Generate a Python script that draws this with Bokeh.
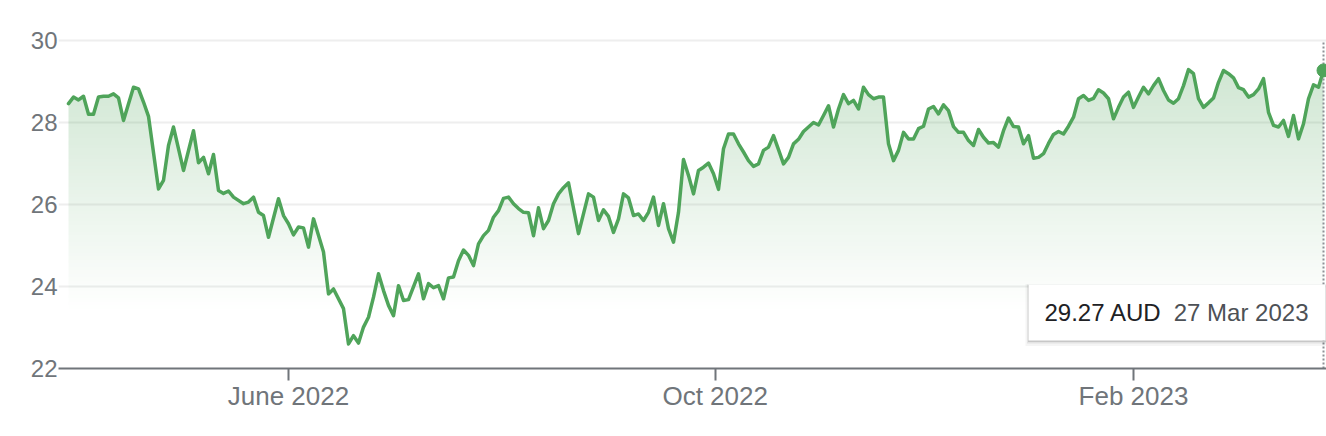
import numpy as np
import pandas as pd
from bokeh.plotting import figure
from bokeh.models import Range1d, FixedTicker
from bokeh.embed import file_html
from bokeh.resources import INLINE
from bokeh.core.properties import value

# ---------------- data ----------------
START = "2022-03-28"
END = "2023-03-27"
HOLIDAYS = ["2022-04-15", "2022-04-18", "2022-04-25", "2022-06-13", "2022-09-22",
            "2022-12-26", "2022-12-27", "2023-01-02", "2023-01-26"]
TICK_DATES = ["2022-06-01", "2022-10-01", "2023-02-01"]
TICK_LABELS = ["June 2022", "Oct 2022", "Feb 2023"]
Y_TICKS = [22, 24, 26, 28, 30]
CURRENCY = "AUD"
LAST_DATE_LABEL = "27 Mar 2023"

# trading-day number of each vertex
day = [0, 1, 2, 3, 4, 5, 6, 7, 8, 9, 10, 11, 13, 14, 15, 16, 18, 19, 20, 21,
       23, 25, 26, 27, 28, 29, 30, 31, 32, 33, 35, 36, 37, 38, 39, 40, 42, 43, 44, 45,
       46, 47, 48, 49, 51, 52, 53, 55, 56, 57, 58, 59, 60, 61, 62, 63, 64, 65, 66, 67,
       68, 70, 71, 72, 73, 74, 75, 76, 77, 78, 79, 80, 81, 82, 83, 84, 85, 86, 87, 88,
       89, 90, 91, 92, 93, 94, 95, 96, 97, 98, 99, 100, 102, 104, 105, 106, 107, 108, 109, 110,
       111, 112, 113, 114, 115, 116, 117, 118, 119, 120, 121, 122, 123, 124, 125, 126, 127, 128, 129, 130,
       131, 132, 133, 134, 135, 136, 137, 138, 139, 140, 141, 142, 143, 144, 145, 146, 147, 148, 149, 150,
       151, 152, 153, 154, 155, 156, 157, 158, 159, 160, 161, 162, 163, 164, 165, 166, 167, 168, 169, 170,
       171, 172, 173, 174, 175, 176, 177, 178, 179, 180, 181, 182, 183, 184, 185, 186, 187, 188, 189, 190,
       191, 192, 193, 194, 195, 196, 197, 198, 199, 200, 201, 202, 203, 204, 205, 206, 207, 208, 209, 210,
       211, 212, 213, 214, 215, 216, 217, 218, 219, 220, 221, 222, 223, 224, 225, 226, 227, 228, 229, 230,
       231, 232, 233, 234, 235, 236, 237, 238, 239, 240, 241, 242, 243, 244, 245, 246, 247, 248, 249, 250,
       251]

price = [28.46, 28.62, 28.55, 28.64, 28.20, 28.20, 28.62, 28.64, 28.64, 28.70, 28.60, 28.05, 28.86, 28.82, 28.50, 28.15, 26.38, 26.59, 27.44, 27.89,
         26.83, 27.80, 27.02, 27.15, 26.75, 27.22, 26.34, 26.27, 26.33, 26.18, 26.02, 26.06, 26.18, 25.81, 25.73, 25.20, 26.14, 25.73, 25.53, 25.26,
         25.45, 25.43, 24.96, 25.65, 24.84, 23.82, 23.94, 23.46, 22.60, 22.80, 22.62, 23.01, 23.25, 23.74, 24.31, 23.90, 23.54, 23.29, 24.02, 23.66,
         23.68, 24.31, 23.70, 24.07, 23.97, 24.02, 23.70, 24.21, 24.23, 24.63, 24.89, 24.76, 24.51, 25.04, 25.24, 25.37, 25.69, 25.85, 26.15, 26.18,
         26.02, 25.90, 25.81, 25.80, 25.24, 25.92, 25.41, 25.61, 26.02, 26.26, 26.41, 26.53, 25.29, 26.26, 26.18, 25.61, 25.87, 25.71, 25.32, 25.65,
         26.26, 26.16, 25.73, 25.77, 25.61, 25.81, 26.18, 25.49, 26.02, 25.41, 25.08, 25.81, 27.10, 26.71, 26.26, 26.83, 26.91, 27.01, 26.75, 26.37,
         27.36, 27.72, 27.72, 27.48, 27.28, 27.07, 26.93, 26.99, 27.32, 27.40, 27.68, 27.34, 26.99, 27.15, 27.48, 27.59, 27.78, 27.89, 28.00, 27.94,
         28.17, 28.41, 27.89, 28.33, 28.68, 28.46, 28.54, 28.33, 28.86, 28.68, 28.58, 28.62, 28.62, 27.48, 27.07, 27.32, 27.76, 27.60, 27.60, 27.85,
         27.91, 28.33, 28.39, 28.21, 28.43, 28.29, 27.90, 27.76, 27.76, 27.56, 27.44, 27.83, 27.64, 27.50, 27.51, 27.40, 27.80, 28.11, 27.90, 27.89,
         27.48, 27.68, 27.13, 27.15, 27.24, 27.49, 27.71, 27.78, 27.72, 27.91, 28.13, 28.58, 28.66, 28.54, 28.59, 28.80, 28.72, 28.58, 28.09, 28.37,
         28.62, 28.74, 28.37, 28.62, 28.86, 28.70, 28.90, 29.07, 28.78, 28.55, 28.47, 28.58, 28.90, 29.29, 29.19, 28.58, 28.37, 28.48, 28.60, 28.98,
         29.27, 29.19, 29.09, 28.85, 28.80, 28.62, 28.68, 28.82, 29.07, 28.25, 27.93, 27.89, 28.05, 27.66, 28.17, 27.60, 27.97, 28.58, 28.92, 28.86,
         29.27]

# ---------------- style ----------------
GREEN = "#4fa45a"
GREEN_RGB = (82, 165, 92)
AXIS_GRAY = "#70757a"
FONT = "Liberation Sans"
W, H = 1326, 436
BORDER_L, BORDER_R, BORDER_T, BORDER_B = 58, 0, 36, 68
X0, X1 = -2.0, 251.6
Y0, Y1 = 22, 30.098

sessions = pd.bdate_range(START, END, freq="C", holidays=HOLIDAYS)
sess_ord = sessions.values.astype("datetime64[D]").astype(np.int64)
tick_ord = pd.to_datetime(TICK_DATES).values.astype("datetime64[D]").astype(np.int64)
tick_pos = [round(float(v), 3) for v in np.interp(tick_ord, sess_ord, np.arange(len(sessions)))]

x = np.array(day, dtype=float)
y = np.array(price, dtype=float)

p = figure(width=W, height=H, output_backend="svg", toolbar_location=None,
           x_range=Range1d(X0, X1), y_range=Range1d(Y0, Y1),
           min_border_left=BORDER_L, min_border_right=BORDER_R,
           min_border_top=BORDER_T, min_border_bottom=BORDER_B)
p.outline_line_color = None
p.background_fill_color = "white"
p.border_fill_color = "white"

# vertical gradient fill under the line (one image pixel per screen pixel)
frame_w = W - BORDER_L - BORDER_R
frame_h = H - BORDER_T - BORDER_B
xc = X0 + (np.arange(frame_w) + 0.5) * (X1 - X0) / frame_w
yc = Y0 + (np.arange(frame_h) + 0.5) * (Y1 - Y0) / frame_h
top = np.interp(xc, x, y)
inside = (yc[:, None] <= top[None, :]) & (xc[None, :] >= x[0]) & (xc[None, :] <= x[-1])
ramp = np.clip((yc - 23.4) * 0.046, 0, 0.26)
img = np.zeros((frame_h, frame_w), dtype=np.uint32)
view = img.view(dtype=np.uint8).reshape((frame_h, frame_w, 4))
view[..., 0] = GREEN_RGB[0]
view[..., 1] = GREEN_RGB[1]
view[..., 2] = GREEN_RGB[2]
view[..., 3] = (inside * ramp[:, None] * 255).round().astype(np.uint8)
p.image_rgba(image=[img], x=X0, y=Y0, dw=X1 - X0, dh=Y1 - Y0)

p.line(x, y, line_width=3.5, line_color=GREEN, line_join="round", line_cap="round")

# dotted crosshair at last point
p.segment(x0=[x[-1]], y0=[Y_TICKS[0]], x1=[x[-1]], y1=[Y_TICKS[-1]],
          line_dash="2 2", line_color="#8d9196", line_width=2)
p.scatter([x[-1]], [y[-1]], size=13, color=GREEN)

# tooltip box
ppd = frame_w / (X1 - X0)
ppu = frame_h / (Y1 - Y0)
box_w, box_h = 297, 56
cx = x[-1] + (2 - box_w / 2) / ppd
cy = Y0 + (28 + box_h / 2) / ppu
for off, grow, alpha in [(2.5, 6, 0.04), (1.5, 3, 0.07), (1.0, 1, 0.12)]:
    p.rect([cx], [cy - off / ppu], width=box_w + grow, height=box_h + grow,
           width_units="screen", height_units="screen",
           fill_color="black", fill_alpha=alpha, line_color=None)
p.rect([cx], [cy], width=box_w, height=box_h, width_units="screen", height_units="screen",
       fill_color="white", line_color=None)
p.text(x=[cx - (box_w / 2 - 16) / ppd], y=[cy], text=[f"{y[-1]:.2f} {CURRENCY}"],
       text_font=value(FONT), text_font_size="24px", text_color="#202124",
       text_align="left", text_baseline="middle")
p.text(x=[cx + (box_w / 2 - 17) / ppd], y=[cy], text=[LAST_DATE_LABEL],
       text_font=value(FONT), text_font_size="24px", text_color="#4d5156",
       text_align="right", text_baseline="middle")

# axes
p.xaxis.ticker = FixedTicker(ticks=tick_pos)
p.xaxis.major_label_overrides = {t: lab for t, lab in zip(tick_pos, TICK_LABELS)}
p.xaxis.axis_line_color = AXIS_GRAY
p.xaxis.axis_line_width = 2
p.xaxis.major_tick_line_color = AXIS_GRAY
p.xaxis.major_tick_line_width = 2
p.xaxis.major_tick_in = 0
p.xaxis.major_tick_out = 12
p.xaxis.minor_tick_line_color = None
p.xaxis.major_label_standoff = 0
p.xaxis.major_label_text_font = FONT
p.xaxis.major_label_text_font_size = "26px"
p.xaxis.major_label_text_color = AXIS_GRAY

p.yaxis.ticker = FixedTicker(ticks=Y_TICKS)
p.yaxis.axis_line_color = None
p.yaxis.major_tick_line_color = None
p.yaxis.minor_tick_line_color = None
p.yaxis.major_tick_in = 0
p.yaxis.major_tick_out = 0
p.yaxis.major_label_standoff = 1
p.yaxis.major_label_text_font = FONT
p.yaxis.major_label_text_font_size = "24px"
p.yaxis.major_label_text_color = AXIS_GRAY

p.xgrid.grid_line_color = None
p.ygrid.grid_line_color = "#eeeeee"
p.ygrid.grid_line_width = 2

open("out.html", "w").write(file_html(p, INLINE))
